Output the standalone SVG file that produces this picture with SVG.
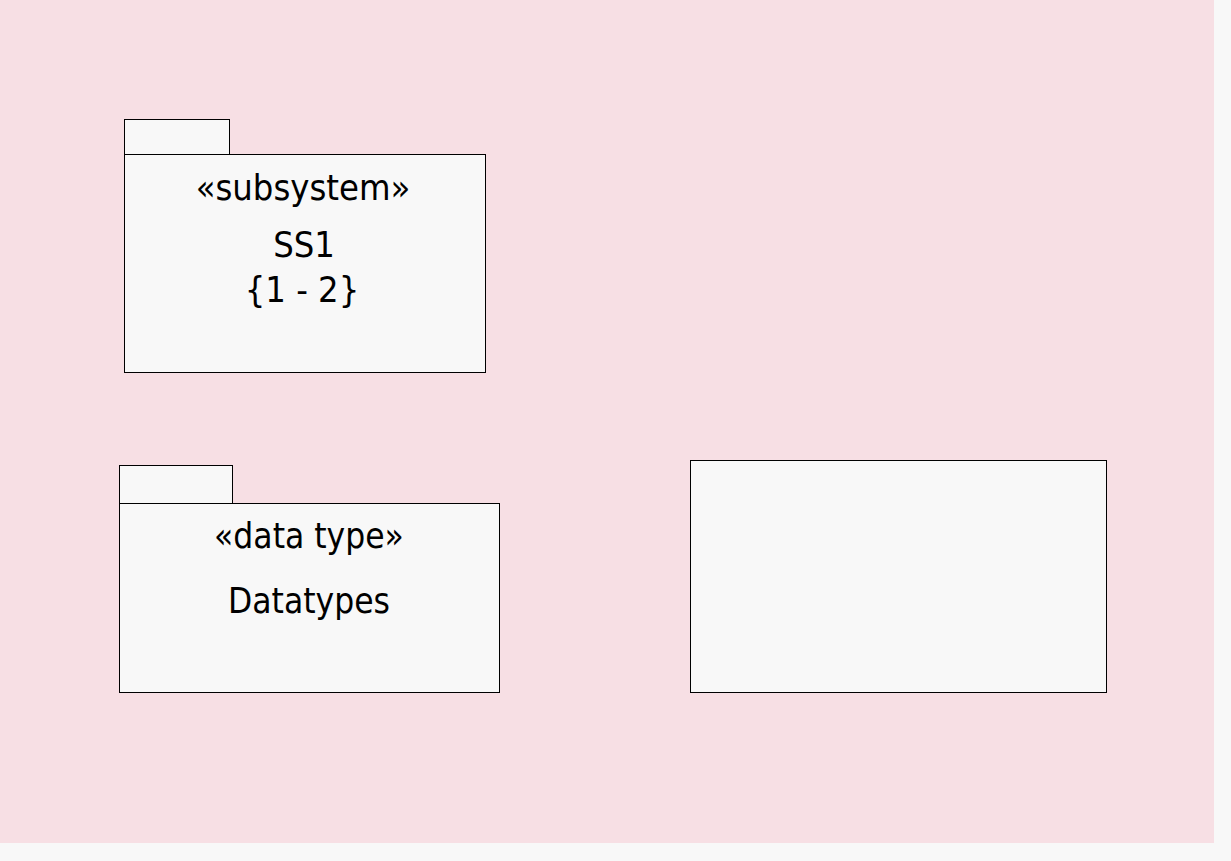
<svg xmlns="http://www.w3.org/2000/svg" width="1231" height="861" viewBox="0 0 1231 861">
<style>
.box{fill:#f8f8f8;stroke:#000;stroke-width:1}
.t{font-family:"DejaVu Sans Condensed","DejaVu Sans",sans-serif;font-size:35px;fill:#000;text-anchor:middle}
.l{font-size:36px}
</style>
<rect x="0" y="0" width="1231" height="861" fill="#f8f8f8"/>
<rect x="0" y="0" width="1214" height="843" fill="#f7dfe4"/>
<g id="ss1">
<rect class="box" x="124.5" y="119.5" width="105" height="35"/>
<rect class="box" x="124.5" y="154.5" width="361" height="218"/>
<text class="t l" x="303" y="200">«subsystem»</text>
<text class="t l" x="304" y="257">SS1</text>
<text class="t l" x="302" y="302">{1 - 2}</text>
</g>
<g id="datatypes">
<rect class="box" x="119.5" y="465.5" width="113" height="38"/>
<rect class="box" x="119.5" y="503.5" width="380" height="189"/>
<text class="t" x="309" y="548">«data type»</text>
<text class="t" x="309" y="613">Datatypes</text>
</g>
<g id="box">
<rect class="box" x="690.5" y="460.5" width="416" height="232"/>
</g>
<g id="connectors"></g>
</svg>
